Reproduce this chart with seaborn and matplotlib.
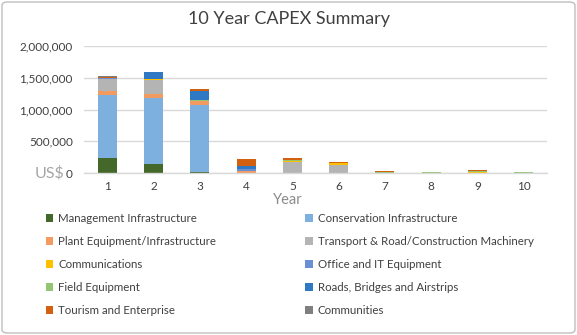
import matplotlib
matplotlib.use("Agg")
import matplotlib.pyplot as plt
from matplotlib.patches import FancyBboxPatch, Patch
import seaborn as sns
import numpy as np

years = ["1", "2", "3", "4", "5", "6", "7", "8", "9", "10"]
categories = [
    "Management Infrastructure",
    "Conservation Infrastructure",
    "Plant Equipment/Infrastructure",
    "Transport & Road/Construction Machinery",
    "Communications",
    "Office and IT Equipment",
    "Field Equipment",
    "Roads, Bridges and Airstrips",
    "Tourism and Enterprise",
    "Communities",
]
management    = [240000, 145000, 18000, 0, 0, 0, 0, 0, 0, 0]
conservation  = [995000, 1040000, 1050000, 0, 0, 0, 0, 0, 0, 0]
plant         = [60000, 57000, 63000, 30000, 0, 0, 0, 0, 0, 0]
transport     = [185000, 215000, 0, 0, 180000, 130000, 0, 0, 0, 0]
communications= [0, 20000, 0, 0, 8000, 25000, 0, 0, 20000, 0]
office_it     = [15000, 0, 0, 30000, 0, 0, 0, 0, 0, 0]
field         = [0, 0, 16000, 0, 12000, 8000, 20000, 22000, 12000, 22000]
roads         = [0, 118000, 147000, 52000, 0, 0, 0, 0, 0, 0]
tourism       = [22000, 0, 21000, 106000, 35000, 16000, 16000, 0, 16000, 0]
communities   = [5000, 0, 0, 0, 0, 0, 0, 0, 0, 0]
series = [management, conservation, plant, transport, communications,
          office_it, field, roads, tourism, communities]
colors = ["#44672A", "#7DB0DF", "#F29A5F", "#B4B4B4", "#FFC000",
          "#6A8FD4", "#92C672", "#2F78C4", "#D2600F", "#7F7F7F"]
ytick_vals = [0, 500000, 1000000, 1500000, 2000000]
ytick_labels = ["0", "500,000", "1,000,000", "1,500,000", "2,000,000"]

sns.set_style("white")
plt.rcParams["font.family"] = ["Lato", "DejaVu Sans"]

W, H = 577, 335
fig = plt.figure(figsize=(W / 100, H / 100), dpi=100)
ax = fig.add_axes([84 / W, 1 - 173 / H, (547 - 84) / W, (173 - 46) / H])

bottom = np.zeros(len(years))
for vals, c in zip(series, colors):
    sns.barplot(x=years, y=vals, order=years, color=c, bottom=bottom,
                width=0.41, ax=ax, saturation=1, linewidth=0)
    bottom = bottom + np.array(vals)

ax.set_xlim(-0.5, len(years) - 0.5)
ax.set_ylim(0, 2000000)
ax.set_yticks(ytick_vals)
ax.set_yticklabels(ytick_labels)
ax.grid(axis="y", color="#D9D9D9", linewidth=1)
ax.set_axisbelow(True)
for s in ["top", "right", "left"]:
    ax.spines[s].set_visible(False)
ax.spines["bottom"].set_color("#D9D9D9")
ax.spines["bottom"].set_linewidth(1)
ax.tick_params(axis="both", length=0, labelsize=8.5, colors="#404040")
ax.tick_params(axis="y", pad=8)
ax.tick_params(axis="x", pad=6)
ax.set_xlabel("")
ax.set_ylabel("")

fig.text(64 / W, 1 - 173.5 / H, "US$", ha="right", va="center",
         fontsize=11.5, color="#A6A6A6")
fig.text(288 / W, 1 - 200 / H, "Year", ha="center", va="center",
         fontsize=10.5, color="#8C8C8C")
fig.text(289 / W, 1 - 19 / H, "10 Year CAPEX Summary", ha="center",
         va="center", fontsize=13, color="#404040")

handles = [Patch(facecolor=c, edgecolor="none") for c in colors]
order = [0, 2, 4, 6, 8, 1, 3, 5, 7, 9]
leg = fig.legend([handles[i] for i in order], [categories[i] for i in order],
                 ncol=2, loc="upper left", bbox_to_anchor=(41 / W, 1 - 208.5 / H),
                 frameon=False, fontsize=8.3, handlelength=0.65,
                 handleheight=0.65, handletextpad=0.45, columnspacing=7.7,
                 labelspacing=1.04, labelcolor="#404040", borderaxespad=0)

frame = FancyBboxPatch((2 / W, 2 / H), (W - 4) / W, (H - 4) / H,
                       boxstyle="round,pad=0,rounding_size=0.01",
                       transform=fig.transFigure, facecolor="none",
                       edgecolor="#BFBFBF", linewidth=1)
fig.patches.append(frame)

fig.savefig("out.png", dpi=100)
